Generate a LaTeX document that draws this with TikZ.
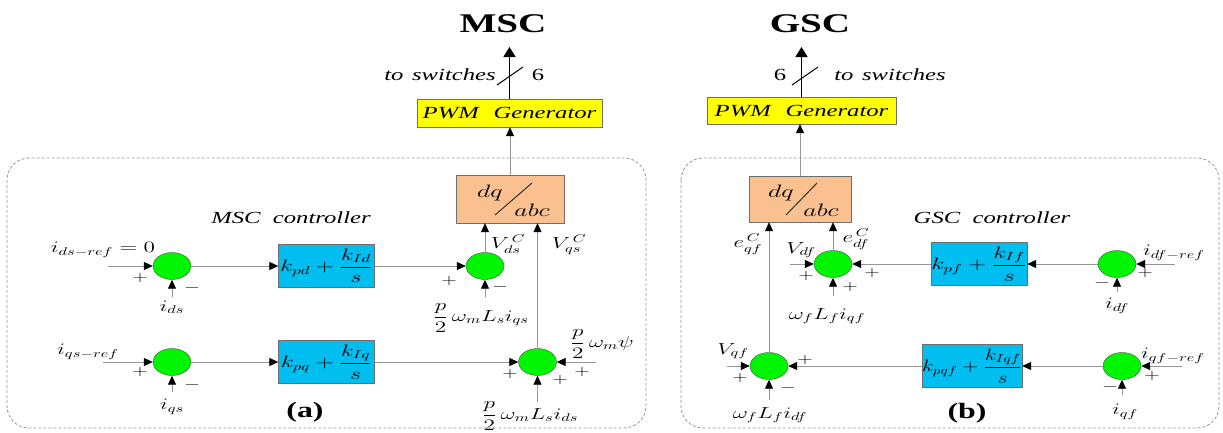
\RequirePackage{fix-cm}
\documentclass[tikz,border=0pt]{standalone}
\usepackage{amsmath}
\usepackage{fontspec}
\setmainfont{Liberation Serif}
\usetikzlibrary{arrows.meta,shapes.geometric}
\definecolor{sumgreen}{RGB}{0,245,0}
\definecolor{sumedge}{RGB}{70,90,70}
\definecolor{picyan}{RGB}{0,190,240}
\definecolor{dqpeach}{RGB}{250,192,144}
\definecolor{pwmyellow}{RGB}{255,255,0}
\definecolor{boxedge}{RGB}{110,110,110}
\definecolor{wiregray}{RGB}{150,150,150}
\definecolor{framegray}{RGB}{150,150,150}
\newcommand\sx[1]{\scalebox{1.45}[1]{#1}}
\begin{document}
\begin{tikzpicture}[x=1pt,y=-1pt,
  wire/.style={draw=wiregray,line width=0.8pt},
  arr/.style={wire,-{Triangle[length=9pt,width=8pt,color=black]}},
  bigarr/.style={draw=black,line width=1.6pt,-{Triangle[length=10pt,width=12pt,color=black]}},
  sum/.style={ellipse,draw=sumedge,fill=sumgreen,minimum width=38pt,minimum height=27pt,inner sep=0pt},
  pibox/.style={rectangle,draw=boxedge,fill=picyan,minimum width=96pt,minimum height=43pt,inner sep=0pt,font=\fontsize{16.5}{19}\selectfont},
  dqbox/.style={rectangle,draw=boxedge,fill=dqpeach,inner sep=0pt},
  pwmbox/.style={rectangle,draw=boxedge,fill=pwmyellow,inner sep=0pt,font=\fontsize{17}{20}\selectfont\itshape},
  lab/.style={inner sep=0pt,font=\fontsize{16}{18}\selectfont},
  sgn/.style={inner sep=0pt,font=\fontsize{14}{16}\selectfont},
  ttl/.style={inner sep=0pt,font=\fontsize{27}{30}\selectfont\bfseries},
  itl/.style={inner sep=0pt,font=\fontsize{17}{20}\selectfont\itshape},
  dqtxt/.style={inner sep=0pt,font=\fontsize{18}{20}\selectfont},
  sublbl/.style={inner sep=0pt,font=\fontsize{22}{24}\selectfont\bfseries},
  ctlframe/.style={draw=framegray,line width=0.8pt,dash pattern=on 3pt off 2pt,rounded corners=22pt}
]
\useasboundingbox (0,0) rectangle (1223,432);

% frames
\draw[ctlframe] (7,158) rectangle (646,428);
\draw[ctlframe] (681,158) rectangle (1219,428);

% ===== MSC =====
\node[ttl] (msct) at (503,24) {\sx{MSC}};
\node[pwmbox,minimum width=185pt,minimum height=28pt] (pwm1) at (509.5,113) {\sx{PWM\hspace{0.6em}Generator}};
\coordinate (top1) at (509.5,47);
\draw[bigarr] (pwm1.north) -- (top1);
\draw[line width=1pt] (497,85) -- (523,67);
\node[itl] (tsw1) at (440,75) {\sx{to\hspace{0.35em}switches}};
\node[itl,font=\fontsize{17}{20}\selectfont] (six1) at (538,75) {\sx{6}};

\node[dqbox,minimum width=108pt,minimum height=48pt] (dq1) at (510,199) {};
\node[dqtxt] (dq1a) at (490,193) {\sx{$dq$}};
\node[dqtxt] (dq1b) at (532,210) {\sx{$abc$}};
\draw[line width=1pt,black!80] (495,215) -- (532,183);
\draw[arr] (dq1.north) -- (dq1.north |- pwm1.south);

\node[sum] (sd) at (172,266) {};
\node[sum] (sq) at (172,362) {};
\node[pibox] (pid) at (326.5,266) {\sx{$k_{pd}+\dfrac{k_{Id}}{s}$}};
\node[pibox] (piq) at (326.5,362) {\sx{$k_{pq}+\dfrac{k_{Iq}}{s}$}};
\node[sum] (svd) at (485,266) {};
\node[sum] (svq) at (537.5,362) {};

\coordinate (sdin) at (108,266);
\coordinate (sdb) at (172,297);
\coordinate (svdb) at (485,297);
\coordinate (sqin) at (103,362);
\coordinate (sqb) at (172,392);
\coordinate (svqr) at (596,362);
\coordinate (svqb) at (537.5,402);
\draw[arr] (sdin) -- (sd.west);
\draw[arr] (sdb) -- (sd.south);
\draw[arr] (sd.east) -- (pid.west);
\draw[arr] (pid.east) -- (svd.west);
\draw[arr] (svdb) -- (svd.south);
\draw[arr] (svd.north) -- (svd.north |- dq1.south);
\draw[arr] (svq.north) -- (svq.north |- dq1.south);
\draw[arr] (sqin) -- (sq.west);
\draw[arr] (sqb) -- (sq.south);
\draw[arr] (sq.east) -- (piq.west);
\draw[arr] (piq.east) -- (svq.west);
\draw[arr] (svqr) -- (svq.east);
\draw[arr] (svqb) -- (svq.south);

\node[lab] (l1) at (103,250) {\sx{$i_{ds-ref}=0$}};
\node[sgn] (p1) at (140,278) {\sx{$+$}};
\node[sgn] (m1) at (192,288) {\sx{$-$}};
\node[lab] (l2) at (172,307) {\sx{$i_{ds}$}};
\node[lab] (l3) at (88,352) {\sx{$i_{qs-ref}$}};
\node[sgn] (p2) at (140,372) {\sx{$+$}};
\node[sgn] (m2) at (192,385) {\sx{$-$}};
\node[lab] (l4) at (172,407) {\sx{$i_{qs}$}};
\node[sublbl] (suba) at (305,412) {\sx{(a)}};
\node[itl] (mscc) at (291,218) {\sx{MSC\hspace{0.5em}controller}};
\node[sgn] (p3) at (449,281) {\sx{$+$}};
\node[sgn] (m3) at (500,287) {\sx{$-$}};
\node[lab] (l5) at (481,318) {\sx{$\dfrac{p}{2}\,\omega_m L_s i_{qs}$}};
\node[lab] (l6) at (508,244) {\sx{$V_{ds}^{\,C}$}};
\node[lab] (l7) at (569,245) {\sx{$V_{qs}^{\,C}$}};
\node[sgn] (p4) at (582,372) {\sx{$+$}};
\node[sgn] (p5) at (510,374) {\sx{$+$}};
\node[sgn] (p6) at (560,380) {\sx{$+$}};
\node[lab] (l8) at (602,344) {\sx{$\dfrac{p}{2}\,\omega_m \psi$}};
\node[lab] (l9) at (530,416) {\sx{$\dfrac{p}{2}\,\omega_m L_s i_{ds}$}};

% ===== GSC =====
\node[ttl] (gsct) at (810,24) {\sx{GSC}};
\node[pwmbox,minimum width=189pt,minimum height=27pt] (pwm2) at (801.5,110.5) {\sx{PWM\hspace{0.6em}Generator}};
\coordinate (top2) at (801.5,47);
\draw[bigarr] (pwm2.north) -- (top2);
\draw[line width=1pt] (792,85) -- (818,67);
\node[itl,font=\fontsize{17}{20}\selectfont] (six2) at (780,75) {\sx{6}};
\node[itl] (tsw2) at (890,75) {\sx{to\hspace{0.35em}switches}};

\node[dqbox,minimum width=102pt,minimum height=46pt] (dq2) at (800,199) {};
\node[dqtxt] (dq2a) at (781,193) {\sx{$dq$}};
\node[dqtxt] (dq2b) at (821,210) {\sx{$abc$}};
\draw[line width=1pt,black!80] (786,215) -- (817,183);
\draw[arr] (dq2.north) -- (dq2.north |- pwm2.south);

\node[sum] (s4) at (833,264) {};
\node[sum] (s5) at (1117,264) {};
\node[pibox] (pidf) at (979,264) {\sx{$k_{pf}+\dfrac{k_{If}}{s}$}};
\node[sum] (s6) at (769,366) {};
\node[sum] (s7) at (1122,366) {};
\node[pibox] (piqf) at (972,366) {\scalebox{1.3}[1]{$k_{pqf}+\dfrac{k_{Iqf}}{s}$}};

\coordinate (s4in) at (790,264);
\coordinate (s4b) at (833,296);
\coordinate (s5in) at (1175,264);
\coordinate (s5b) at (1117,292);
\coordinate (s6in) at (727,366);
\coordinate (s6b) at (769,400);
\coordinate (s7in) at (1182,366);
\coordinate (s7b) at (1122,395);
\draw[arr] (s4.north) -- (s4.north |- dq2.south);
\draw[arr] (s6.north) -- (s6.north |- dq2.south);
\draw[arr] (s4in) -- (s4.west);
\draw[arr] (s4b) -- (s4.south);
\draw[arr] (pidf.west) -- (s4.east);
\draw[arr] (s5.west) -- (pidf.east);
\draw[arr] (s5in) -- (s5.east);
\draw[arr] (s5b) -- (s5.south);
\draw[arr] (s6in) -- (s6.west);
\draw[arr] (s6b) -- (s6.south);
\draw[arr] (piqf.west) -- (s6.east);
\draw[arr] (s7.west) -- (piqf.east);
\draw[arr] (s7in) -- (s7.east);
\draw[arr] (s7b) -- (s7.south);

\node[itl] (gscc) at (992,218) {\sx{GSC\hspace{0.5em}controller}};
\node[lab] (g1) at (801,250) {\sx{$V_{df}$}};
\node[sgn] (gp1) at (806,276) {\sx{$+$}};
\node[sgn] (gp2) at (850,287) {\sx{$+$}};
\node[lab] (g2) at (827,316) {\sx{$\omega_f L_f i_{qf}$}};
\node[lab] (g3) at (856,239) {\sx{$e_{df}^{\,C}$}};
\node[lab] (g4) at (748,244) {\sx{$e_{qf}^{\,C}$}};
\node[sgn] (gp3) at (872,273) {\sx{$+$}};
\node[sgn] (gp4) at (1145,273) {\sx{$+$}};
\node[lab] (g5) at (1174,253) {\sx{$i_{df-ref}$}};
\node[sgn] (gm1) at (1102,283) {\sx{$-$}};
\node[lab] (g6) at (1117,306) {\sx{$i_{df}$}};
\node[lab] (g7) at (733,351) {\sx{$V_{qf}$}};
\node[sgn] (gp5) at (740,378) {\sx{$+$}};
\node[sgn] (gp6) at (805,360) {\sx{$+$}};
\node[sgn] (gm2) at (788,388) {\sx{$-$}};
\node[lab] (g8) at (770,415) {\sx{$\omega_f L_f i_{df}$}};
\node[sgn] (gp7) at (1152,376) {\sx{$+$}};
\node[lab] (g9) at (1173,356) {\sx{$i_{qf-ref}$}};
\node[sgn] (gm3) at (1110,387) {\sx{$-$}};
\node[lab] (g10) at (1125,412) {\sx{$i_{qf}$}};
\node[sublbl] (subb) at (967,413) {\sx{(b)}};
\end{tikzpicture}
\end{document}
